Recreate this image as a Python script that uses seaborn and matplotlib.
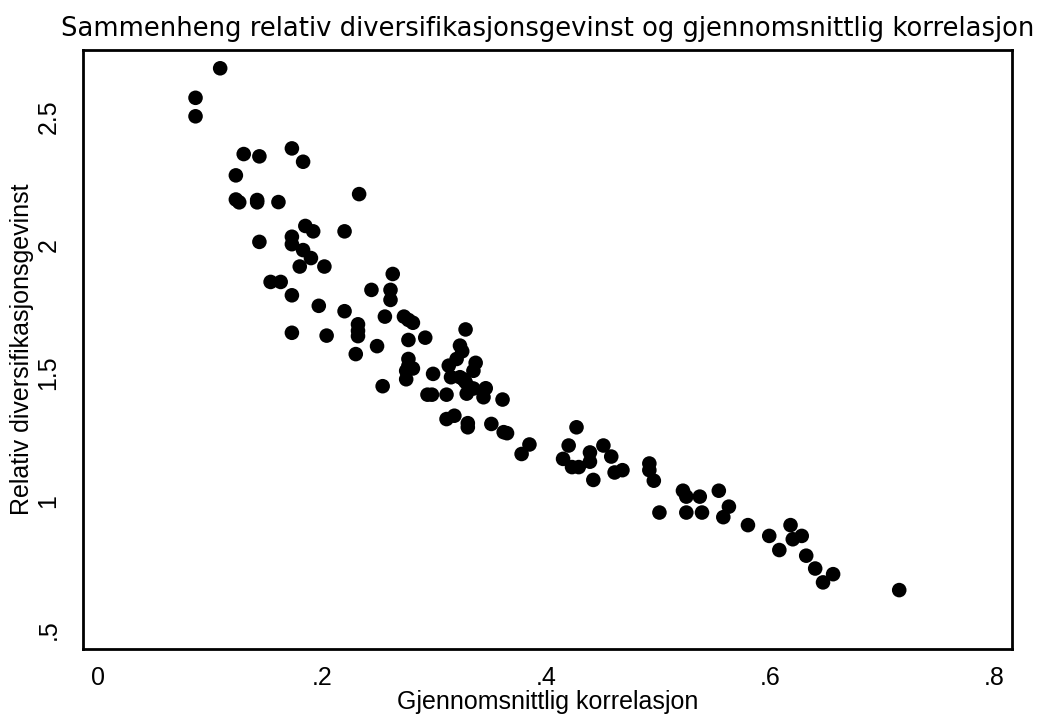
import matplotlib
matplotlib.use("Agg")
import matplotlib.pyplot as plt
import seaborn as sns
import pandas as pd

# Data
korrelasjon = [
    0.109, 0.087, 0.087, 0.130, 0.144, 0.173, 0.183, 0.123, 0.123, 0.126,
    0.142, 0.142, 0.161, 0.233, 0.185, 0.192, 0.220, 0.144, 0.173, 0.173,
    0.183, 0.190, 0.180, 0.202, 0.263, 0.154, 0.163, 0.173, 0.244, 0.261,
    0.261, 0.197, 0.220, 0.256, 0.273, 0.277, 0.281, 0.232, 0.232, 0.232,
    0.173, 0.204, 0.328, 0.277, 0.292, 0.249, 0.230, 0.323, 0.325, 0.277,
    0.277, 0.281, 0.275, 0.275, 0.299, 0.320, 0.313, 0.337, 0.335, 0.315,
    0.323, 0.326, 0.328, 0.331, 0.329, 0.335, 0.346, 0.344, 0.361, 0.294,
    0.298, 0.311, 0.254, 0.311, 0.318, 0.330, 0.330, 0.351, 0.362, 0.365,
    0.385, 0.378, 0.427, 0.420, 0.415, 0.423, 0.429, 0.439, 0.439, 0.442,
    0.451, 0.458, 0.461, 0.468, 0.492, 0.492, 0.496, 0.501, 0.522, 0.525,
    0.537, 0.525, 0.539, 0.554, 0.563, 0.558, 0.580, 0.599, 0.618, 0.620,
    0.628, 0.608, 0.632, 0.640, 0.647, 0.656, 0.715,
]
gevinst = [
    2.687, 2.572, 2.500, 2.353, 2.344, 2.375, 2.323, 2.270, 2.176, 2.165,
    2.174, 2.165, 2.166, 2.197, 2.073, 2.052, 2.052, 2.011, 2.031, 2.002,
    1.979, 1.948, 1.915, 1.915, 1.886, 1.855, 1.855, 1.803, 1.824, 1.824,
    1.785, 1.762, 1.741, 1.720, 1.720, 1.707, 1.696, 1.690, 1.665, 1.644,
    1.657, 1.646, 1.670, 1.629, 1.638, 1.605, 1.574, 1.607, 1.585, 1.555,
    1.529, 1.518, 1.509, 1.476, 1.497, 1.555, 1.529, 1.540, 1.509, 1.484,
    1.484, 1.476, 1.465, 1.445, 1.420, 1.440, 1.441, 1.406, 1.397, 1.416,
    1.416, 1.416, 1.449, 1.321, 1.334, 1.305, 1.289, 1.302, 1.270, 1.266,
    1.222, 1.185, 1.289, 1.218, 1.166, 1.134, 1.134, 1.191, 1.155, 1.084,
    1.218, 1.175, 1.113, 1.122, 1.148, 1.122, 1.081, 0.957, 1.042, 1.019,
    1.019, 0.957, 0.957, 1.042, 0.980, 0.939, 0.908, 0.866, 0.908, 0.853,
    0.866, 0.811, 0.789, 0.739, 0.685, 0.717, 0.655,
]
x_ticks = [0, 0.2, 0.4, 0.6, 0.8]
x_tick_labels = ["0", ".2", ".4", ".6", ".8"]
y_ticks = [0.5, 1.0, 1.5, 2.0, 2.5]
y_tick_labels = [".5", "1", "1.5", "2", "2.5"]

title = "Sammenheng relativ diversifikasjonsgevinst og gjennomsnittlig korrelasjon"
x_label = "Gjennomsnittlig korrelasjon"
y_label = "Relativ diversifikasjonsgevinst"

sns.set_theme(style="white")
plt.rcParams["font.family"] = ["Liberation Sans", "DejaVu Sans"]

df = pd.DataFrame({"korrelasjon": korrelasjon, "gevinst": gevinst})

fig = plt.figure(figsize=(10.48, 7.15), dpi=100)
ax = fig.add_axes([0.0789, 0.0923, 0.9656 - 0.0789, 0.930 - 0.0923])

sns.scatterplot(data=df, x="korrelasjon", y="gevinst", ax=ax,
                color="black", edgecolor="none", s=110, linewidth=0)

ax.set_xlim(-0.0137, 0.8156)
ax.set_ylim(0.4256, 2.758)

ax.set_xticks(x_ticks)
ax.set_xticklabels(x_tick_labels, fontsize=18)
ax.set_yticks(y_ticks)
ax.set_yticklabels(y_tick_labels, fontsize=18, rotation=90, va="center")

ax.tick_params(axis="both", direction="out", length=7, width=1.5,
               color="black", labelcolor="black")
ax.tick_params(axis="x", pad=5)
ax.tick_params(axis="y", pad=9)

for sp in ax.spines.values():
    sp.set_visible(True)
    sp.set_color("black")
    sp.set_linewidth(2)

ax.set_xlabel(x_label, fontsize=18, color="black", labelpad=0)
ax.set_ylabel(y_label, fontsize=18, color="black", labelpad=2)
ax.set_title(title, fontsize=18.6, color="black", pad=10,
             family=["DejaVu Sans"])

fig.savefig("out.png", dpi=100, facecolor="white")
